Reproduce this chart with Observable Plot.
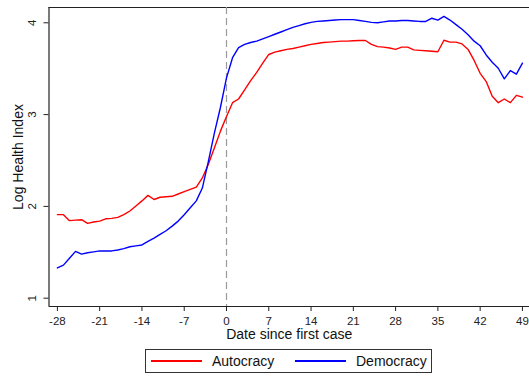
<!DOCTYPE html>
<html>
<head>
<meta charset="utf-8">
<script src="https://cdn.jsdelivr.net/npm/d3@7"></script>
<script src="https://cdn.jsdelivr.net/npm/@observablehq/plot@0.6"></script>
<style>
  html, body { margin: 0; padding: 0; background: #fff; }
  body { position: relative; width: 529px; height: 378px; overflow: hidden; font-family: "Liberation Sans", Arial, sans-serif; }
  #chart svg { display: block; }
  #legend {
    position: absolute; left: 145px; top: 349px; width: 287px; height: 24px;
    border: 1px solid #333; box-sizing: border-box; background: #fff;
    font-size: 14px; color: #111;
  }
  #legend .item { position: absolute; top: 0; height: 100%; display: flex; align-items: center; }
  #legend .swatch { display: inline-block; width: 51px; height: 1.5px; margin-right: 10px; }
</style>
</head>
<body>
<div id="chart"></div>
<div id="legend"></div>
<script>
// Days relative to the first reported case
const days = d3.range(-28, 50);

// Mean log health index by regime type, one value per day (-28 … 49)
const autocracy = [
  1.91, 1.91, 1.845, 1.85, 1.855, 1.815, 1.83,
  1.84, 1.865, 1.87, 1.88, 1.91, 1.95, 2.005,
  2.06, 2.12, 2.075, 2.10, 2.105, 2.11, 2.135,
  2.16, 2.185, 2.21, 2.31, 2.46, 2.64, 2.82,
  2.98, 3.13, 3.17, 3.27, 3.37, 3.46, 3.56,
  3.655, 3.68, 3.695, 3.71, 3.72, 3.735, 3.75,
  3.765, 3.775, 3.785, 3.79, 3.795, 3.80, 3.80,
  3.805, 3.807, 3.807, 3.765, 3.74, 3.735, 3.725,
  3.71, 3.735, 3.735, 3.705, 3.70, 3.695, 3.69,
  3.685, 3.81, 3.79, 3.79, 3.77, 3.71, 3.59,
  3.45, 3.36, 3.20, 3.13, 3.17, 3.13, 3.21,
  3.19
];
const democracy = [
  1.33, 1.36, 1.435, 1.51, 1.48, 1.495, 1.505,
  1.515, 1.515, 1.515, 1.525, 1.54, 1.56, 1.57,
  1.58, 1.62, 1.655, 1.695, 1.735, 1.785, 1.84,
  1.91, 1.985, 2.06, 2.20, 2.49, 2.80, 3.08,
  3.40, 3.62, 3.73, 3.765, 3.785, 3.80, 3.825,
  3.85, 3.875, 3.90, 3.925, 3.95, 3.97, 3.99,
  4.005, 4.015, 4.02, 4.025, 4.03, 4.035, 4.035,
  4.035, 4.025, 4.015, 4.005, 4.0, 4.01, 4.02,
  4.02, 4.025, 4.025, 4.02, 4.015, 4.015, 4.05,
  4.03, 4.07, 4.03, 3.98, 3.93, 3.87, 3.80,
  3.75, 3.65, 3.57, 3.505, 3.39, 3.48, 3.44,
  3.56
];

const seriesNames = ["Autocracy", "Democracy"];
const seriesColors = ["#ff0000", "#0000ff"];
const xTicks = [-28, -21, -14, -7, 0, 7, 14, 21, 28, 35, 42, 49];
const yTicks = [1, 2, 3, 4];
const xTitle = "Date since first case";
const yTitle = "Log Health Index";

const rows = [
  ...days.map((d, i) => ({day: d, value: autocracy[i], group: seriesNames[0]})),
  ...days.map((d, i) => ({day: d, value: democracy[i], group: seriesNames[1]}))
];

const xDomain = [-29.39, 50.17];
const yDomain = [0.9096, 4.1667];
const axisColor = "#222";

const chart = Plot.plot({
  width: 529,
  height: 345,
  marginLeft: 48.5,
  marginRight: 0,
  marginTop: 7,
  marginBottom: 39,
  style: {fontFamily: "'Liberation Sans', Arial, sans-serif", background: "#fff", color: axisColor},
  x: {domain: xDomain},
  y: {domain: yDomain},
  color: {domain: seriesNames, range: seriesColors},
  marks: [
    // frame: left, bottom and top edges of the plot region
    Plot.ruleX([xDomain[0]], {stroke: axisColor, strokeWidth: 1.2}),
    Plot.ruleY([yDomain[0]], {stroke: axisColor, strokeWidth: 1.2}),
    Plot.ruleY([yDomain[1]], {stroke: axisColor, strokeWidth: 1.2}),
    // day of first case
    Plot.ruleX([0], {stroke: "#9a9a9a", strokeWidth: 1.2, strokeDasharray: "7,4"}),
    Plot.axisX({ticks: xTicks, tickSize: 5, tickPadding: 5, tickFormat: d => String(d), fontSize: 11.5, label: null, stroke: axisColor}),
    Plot.axisY({ticks: yTicks, tickSize: 5, tickFormat: () => "", label: null, stroke: axisColor}),
    Plot.text(yTicks, {y: d => d, text: d => String(d), frameAnchor: "left", dx: -16.5, rotate: -90,
      textAnchor: "middle", lineAnchor: "middle", fontSize: 11.5, fill: axisColor}),
    Plot.text([yTitle], {frameAnchor: "left", dx: -30.5, rotate: -90,
      textAnchor: "middle", lineAnchor: "middle", fontSize: 14, fill: "#111"}),
    Plot.text([xTitle], {frameAnchor: "bottom", dy: 28,
      textAnchor: "middle", lineAnchor: "middle", fontSize: 14, fill: "#111"}),
    Plot.line(rows, {x: "day", y: "value", z: "group", stroke: "group", strokeWidth: 1.4})
  ]
});
document.getElementById("chart").append(chart);

// legend row below the chart
const legend = document.getElementById("legend");
const legendLefts = [5, 149];
seriesNames.forEach((name, i) => {
  const item = document.createElement("div");
  item.className = "item";
  item.style.left = legendLefts[i] + "px";
  const sw = document.createElement("span");
  sw.className = "swatch";
  sw.style.background = seriesColors[i];
  item.append(sw, document.createTextNode(name));
  legend.append(item);
});
</script>
</body>
</html>
